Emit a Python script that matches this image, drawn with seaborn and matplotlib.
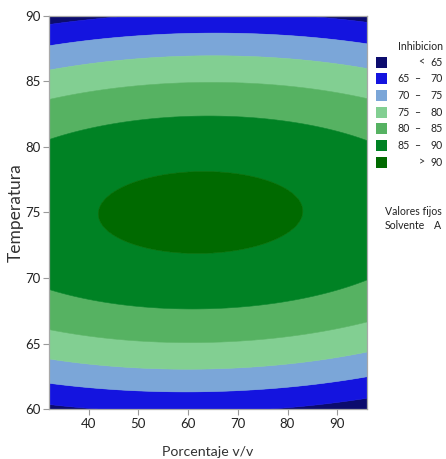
import numpy as np
import matplotlib
matplotlib.use("Agg")
import matplotlib.pyplot as plt
from matplotlib.patches import Rectangle
import seaborn as sns

# Fitted quadratic response surface for Inhibicion (Solvente fixed at A)
resp_max = 91.1        # predicted maximum inhibition
pct_opt = 62.5         # Porcentaje v/v at the maximum
temp_opt = 75.0        # Temperatura at the maximum
curv_pct = 0.0026      # curvature along Porcentaje v/v
curv_temp = 0.113      # curvature along Temperatura
interaction = 0.00114  # Porcentaje x Temperatura interaction

pct_range = [32, 96]
temp_range = [60, 90]

# Contour bands
level_edges = [65, 70, 75, 80, 85, 90]
band_colors = ["#0c0c6e", "#1414df", "#7ba6d8", "#82cf92", "#56b262", "#008224", "#006a00"]
band_lo = ["", "65", "70", "75", "80", "85", ""]
band_hi = ["65", "70", "75", "80", "85", "90", "90"]
band_sign = ["<", "–", "–", "–", "–", "–", ">"]

x_ticks = [40, 50, 60, 70, 80, 90]
y_ticks = [60, 65, 70, 75, 80, 85, 90]

sns.set_theme(style="white")
plt.rcParams["font.family"] = ["Lato", "DejaVu Sans"]

fig = plt.figure(figsize=(4.46, 4.59), dpi=100)
W, H = 446, 459
ax = fig.add_axes([49 / W, 1 - 409.3 / H, 318 / W, 393.6 / H])

pct = np.linspace(pct_range[0], pct_range[1], 500)
temp = np.linspace(temp_range[0], temp_range[1], 500)
P, T = np.meshgrid(pct, temp)
U, V = P - pct_opt, T - temp_opt
Z = resp_max - curv_pct * U ** 2 - curv_temp * V ** 2 + interaction * U * V

levels = [Z.min() - 1] + level_edges + [Z.max() + 1]
cs = ax.contourf(P, T, Z, levels=levels, colors=band_colors, antialiased=True)
cs.set_edgecolor("face")
cs.set_linewidth(0.4)

ax.set_xlim(*pct_range)
ax.set_ylim(*temp_range)
ax.set_xticks(x_ticks)
ax.set_yticks(y_ticks)
ax.tick_params(axis="both", direction="out", length=4, width=0.8, color="#9a9a9a",
               labelsize=9.5, labelcolor="#222222", pad=2, bottom=True, left=True)
for s in ax.spines.values():
    s.set_color("#a8a8a8")
    s.set_linewidth(0.9)
    s.set_zorder(5)

ax.set_xlabel("Porcentaje v/v", fontsize=10.2, color="#333333")
ax.xaxis.label.set_va("center")
ax.xaxis.set_label_coords(0.5, (409.3 - 452) / 393.6)
ax.set_ylabel("Temperatura", fontsize=12.5, color="#333333")
ax.yaxis.label.set_va("center")
ax.yaxis.set_label_coords((16 - 49) / 318, 0.5)

# Legend drawn in pixel positions of the figure
def fx(px):
    return px / W

def fy(py):
    return 1 - py / H

lg = dict(fontsize=7.6, color="#222222", va="center")
fig.text(fx(443), fy(47), "Inhibicion", ha="right", **lg)
row0, step = 62, 16.7
for i, c in enumerate(band_colors):
    yc = row0 + i * step
    fig.patches.append(Rectangle((fx(376), fy(yc + 5.5)), 10.5 / W, 11 / H,
                                 transform=fig.transFigure, facecolor=c, edgecolor="none"))
    if band_lo[i]:
        fig.text(fx(409.5), fy(yc), band_lo[i], ha="right", **lg)
        fig.text(fx(417.5), fy(yc), band_sign[i], ha="center", **lg)
    else:
        fig.text(fx(421.5), fy(yc), band_sign[i], ha="center", **lg)
    fig.text(fx(443), fy(yc), band_hi[i], ha="right", **lg)

fig.text(fx(385), fy(211), "Valores fijos", ha="left", **lg)
fig.text(fx(385), fy(225), "Solvente", ha="left", **lg)
fig.text(fx(441), fy(225), "A", ha="right", **lg)

fig.savefig("out.png", dpi=100, facecolor="white")
